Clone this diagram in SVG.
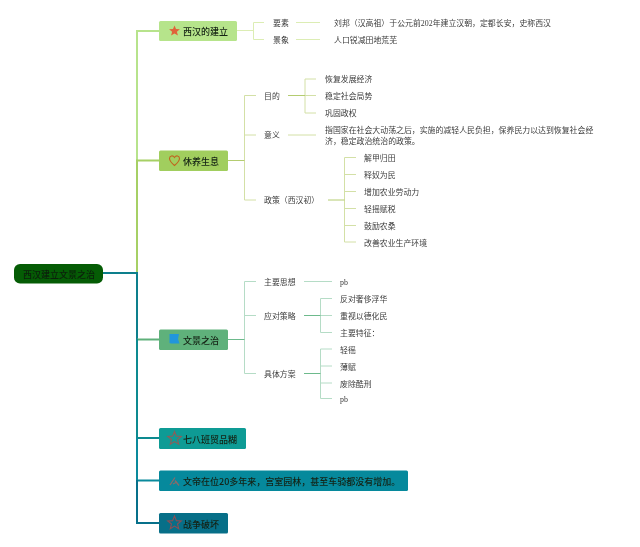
<svg xmlns="http://www.w3.org/2000/svg" width="640" height="547" viewBox="0 0 640 547">
<defs>
<style>
text{font-family:"Liberation Serif","Noto Sans CJK SC",sans-serif;dominant-baseline:central}
.t{font-size:9px;fill:#142214;font-family:"Noto Sans CJK SC",sans-serif;font-weight:500}
.l{font-size:7.9px;fill:#3c3c3c}
.c{fill:none}
.b{stroke-width:2}
.s{stroke-width:1}
</style>
<filter id="soft" x="-5%" y="-5%" width="110%" height="110%" color-interpolation-filters="sRGB"><feGaussianBlur stdDeviation="0.3"/></filter>
<polygon id="star" points="0,-5.6 1.5,-1.9 5.4,-1.7 2.4,0.8 3.4,4.6 0,2.5 -3.4,4.6 -2.4,0.8 -5.4,-1.7 -1.5,-1.9"/>
</defs>
<rect width="640" height="547" fill="#fff"/>
<g filter="url(#soft)">
<g id="connectors" class="c">
<path class="b" stroke="#b7e38c" d="M137 160V31H159"/>
<path class="b" stroke="#a6d065" d="M137 273V160.500H159"/>
<path class="b" stroke="#0d7f8c" d="M103 273H137V339"/>
<path class="b" stroke="#5fb07a" d="M137 339.500H159"/>
<path class="b" stroke="#0d8a90" d="M137 339V438H159"/>
<path class="b" stroke="#0a8a9c" d="M137 438V480.500H159"/>
<path class="b" stroke="#07708a" d="M137 480V523H159"/>
<g class="s" stroke="#dcedb4">
<path d="M237 30.500H253.500M253.500 22.500V39.500M253.500 22.500H264M253.500 39.500H264M296 22.500H320M296 39.500H320"/>
</g>
<g class="s" stroke="#d3e0a6">
<path d="M244.500 95.500V200M244.500 95.500H256M244.500 135H256M244.500 200H256M305 79V113M305 79H316M305 113H316M288 135H316"/>
<path d="M344.500 157.500V242M344.500 157.500H356M344.500 174.500H356M344.500 191.500H356M344.500 208.500H356M344.500 225.500H356M344.500 242H356"/>
<path d="M305 95.500H316"/>
</g>
<g class="s" stroke="#b4cc70">
<path d="M228 160.500H244.500M288 95.500H305M328 200H344.500"/>
</g>
<g class="s" stroke="#b5dcc6">
<path d="M244.500 281.500V373.500M244.500 281.500H256M244.500 315.500H256M244.500 373.500H256M304 281.500H332"/>
<path d="M320.500 298.500V332.500M320.500 298.500H332M320.500 315.500H332M320.500 332.500H332"/>
<path d="M320.500 349V398.500M320.500 349H332M320.500 366H332M320.500 383H332M320.500 398.500H332"/>
</g>
<g class="s" stroke="#6dba8c">
<path d="M228 339.500H244.500M304 315.500H320.500M304 373.500H320.500"/>
</g>
</g>
<g id="root"><rect x="14" y="264" width="89" height="19.500" rx="6" fill="#055c05"/><text class="t" x="23" y="274" style="fill:#0c200c">西汉建立文景之治</text></g>
<g id="n1"><rect x="159" y="21" width="78" height="20" rx="1.500" fill="#b6e48b"/>
<use href="#star" x="174.500" y="31" fill="#e0633a"/><text class="t" x="183" y="31.500">西汉的建立</text></g>
<g id="n2"><rect x="159" y="150.500" width="69" height="20.500" rx="1.500" fill="#a1ce5e"/>
<path d="M174.500 165.500C171 162.500 169.500 160.500 169.500 158.500C169.500 155.500 173 155 174.500 157.500C176 155 179.500 155.500 179.500 158.500C179.500 160.500 178 162.500 174.500 165.500Z" fill="none" stroke="#c0651f" stroke-width="1.100"/>
<text class="t" x="183" y="161">休养生息</text></g>
<g id="n3"><rect x="159" y="329.500" width="69" height="20.500" rx="1.500" fill="#5fb17b"/>
<path d="M169.500 334H179L178 339L179.500 343.500H171L169.500 343Z" fill="#2196dc"/>
<text class="t" x="183" y="340">文景之治</text></g>
<g id="n4"><rect x="159" y="428" width="87" height="21" rx="1.500" fill="#0e9b95"/>
<use href="#star" transform="translate(174.500 438.500) scale(1.250)" fill="none" stroke="#8a5f5a" stroke-width="0.900"/>
<text class="t" x="183" y="439">七八班贸品糊</text></g>
<g id="n5"><rect x="159" y="470.500" width="249" height="20.500" rx="1.500" fill="#06899c"/>
<path d="M170 485L175 477.500M175 480.500L179 485.500M173 484L177 482" fill="none" stroke="#8a6a68" stroke-width="1.300"/>
<text class="t" x="183" y="481">文帝在位20多年来，宫室园林，甚至车骑都没有增加。</text></g>
<g id="n6"><rect x="159" y="513" width="69" height="20.500" rx="1.500" fill="#076f88"/>
<use href="#star" transform="translate(174.500 523) scale(1.250)" fill="none" stroke="#8a4f55" stroke-width="0.900"/>
<text class="t" x="183" y="524">战争破坏</text></g>
<g id="leaf-1"><text class="l" x="273" y="23">要素</text><text class="l" x="273" y="40">景象</text>
<text class="l" x="334" y="23">刘邦（汉高祖）于公元前202年建立汉朝，定都长安，史称西汉</text><text class="l" x="334" y="40">人口锐减田地荒芜</text></g>
<g id="leaf-2"><text class="l" x="264" y="96">目的</text><text class="l" x="264" y="135">意义</text><text class="l" x="264" y="200">政策（西汉初）</text>
<text class="l" x="325" y="79.500">恢复发展经济</text><text class="l" x="325" y="96.500">稳定社会局势</text><text class="l" x="325" y="113.500">巩固政权</text>
<text class="l" x="325" y="130.500">指国家在社会大动荡之后，实施的减轻人民负担，保养民力以达到恢复社会经</text><text class="l" x="325" y="141.500">济，稳定政治统治的政策。</text>
<text class="l" x="364" y="158.500">解甲归田</text><text class="l" x="364" y="175.500">释奴为民</text><text class="l" x="364" y="192.500">增加农业劳动力</text><text class="l" x="364" y="209">轻摇赋税</text><text class="l" x="364" y="226">鼓励农桑</text><text class="l" x="364" y="243">改善农业生产环境</text></g>
<g id="leaf-3"><text class="l" x="264" y="282.500">主要思想</text><text class="l" x="264" y="316">应对策略</text><text class="l" x="264" y="374">具体方案</text>
<text class="l" x="340" y="282.500">pb</text><text class="l" x="340" y="299">反对奢侈浮华</text><text class="l" x="340" y="316">重视以德化民</text><text class="l" x="340" y="333">主要特征：</text>
<text class="l" x="340" y="350">轻徭</text><text class="l" x="340" y="367">薄赋</text><text class="l" x="340" y="384">废除酷刑</text><text class="l" x="340" y="399.500">pb</text></g>
</g>
</svg>
